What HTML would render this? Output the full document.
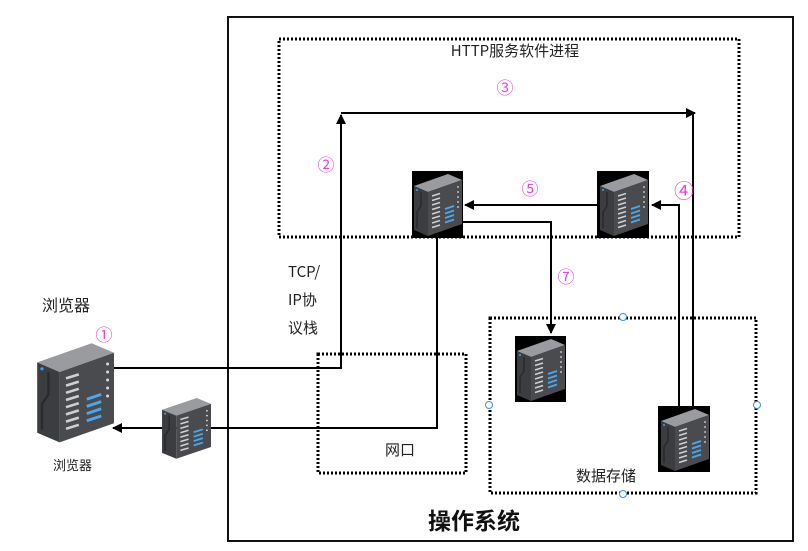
<!DOCTYPE html>
<html><head><meta charset="utf-8"><style>
html,body{margin:0;padding:0;background:#fff;width:808px;height:551px;overflow:hidden}
svg text{font-family:"Noto Sans CJK SC","Liberation Sans",sans-serif}
</style></head><body>
<svg width="808" height="551" viewBox="0 0 808 551" xmlns="http://www.w3.org/2000/svg">
<defs>
<g id="srv">
 <polygon points="2,14 36,2 50,8 16,20" fill="#9a9b9e"/>
 <polygon points="2,14 16,20 16,64 2,58" fill="#3c3d40"/>
 <polygon points="16,20 50,8 50,52 16,64" fill="#4a4b4f"/>
 <path d="M9,20 L9,34 L5,40 L5,56" stroke="#2a2a2c" stroke-width="1.5" fill="none"/>
 <circle cx="5" cy="18" r="1" fill="#3fa0ff"/>
 <g stroke="#d0d0d0" stroke-width="1.6">
  <line x1="20" y1="24" x2="28" y2="21.5"/><line x1="20" y1="28.5" x2="28" y2="26"/>
  <line x1="20" y1="33" x2="28" y2="30.5"/><line x1="20" y1="37.5" x2="28" y2="35"/>
  <line x1="20" y1="42" x2="28" y2="39.5"/><line x1="20" y1="46.5" x2="28" y2="44"/>
  <line x1="20" y1="51" x2="28" y2="48.5"/><line x1="20" y1="55.5" x2="28" y2="53"/>
 </g>
 <g stroke="#4aa8f0" stroke-width="1.8">
  <line x1="33" y1="37" x2="42" y2="34"/><line x1="33" y1="41.5" x2="42" y2="38.5"/>
  <line x1="33" y1="46" x2="42" y2="43"/><line x1="33" y1="50.5" x2="42" y2="47.5"/>
 </g>
 <g fill="#ddd"><circle cx="46" cy="15" r=".9"/><circle cx="46" cy="20" r=".9"/><circle cx="46" cy="25" r=".9"/><circle cx="46" cy="30" r=".9"/><circle cx="46" cy="35" r=".9"/></g>
</g>
<marker id="ar" markerWidth="10" markerHeight="10" refX="9" refY="5" orient="auto" markerUnits="userSpaceOnUse"><path d="M0,0 L10,5 L0,10 z" fill="#000"/></marker>
</defs>

<rect x="228" y="17" width="565" height="524" fill="none" stroke="#111" stroke-width="2"/>
<g fill="none" stroke="#000" stroke-width="3" stroke-dasharray="2,2">
<rect x="279" y="39" width="460" height="198"/>
<rect x="318" y="354" width="148" height="119"/>
<rect x="490" y="318" width="266" height="175"/>
</g>
<g fill="#fff" stroke="#3b8fe0" stroke-width="1"><circle cx="623" cy="317" r="3.5"/><circle cx="489" cy="405" r="3.5"/><circle cx="757" cy="405" r="3.5"/><circle cx="623" cy="494" r="3.5"/></g>

<g stroke="#000" stroke-width="2" fill="none">
 <path d="M113,368 H341 V115" marker-end="url(#ar)"/>
 <path d="M341,113 H695" marker-end="url(#ar)"/>
 <path d="M693,406 V113"/>
 <path d="M679,406 V205 H652" marker-end="url(#ar)"/>
 <path d="M597,205 H465" marker-end="url(#ar)"/>
 <path d="M463,222 H551 V333" marker-end="url(#ar)"/>
 <path d="M437,238 V428 H113" marker-end="url(#ar)"/>
</g>

<rect x="412" y="171" width="51" height="67" fill="#000"/><use href="#srv" x="412" y="172"/>
<rect x="597" y="171" width="52" height="67" fill="#000"/><use href="#srv" x="598" y="172"/>
<rect x="515" y="336" width="51" height="66" fill="#000"/><use href="#srv" x="515" y="337"/>
<rect x="658" y="406" width="52" height="66" fill="#000"/><use href="#srv" x="659" y="407"/>
<use href="#srv" transform="translate(160,396) scale(1.02,0.98)"/>
<use href="#srv" transform="translate(34,340) scale(1.6,1.6)"/>

<g font-size="15" fill="#222">
 <text x="515" y="56" text-anchor="middle">HTTP服务软件进程</text>
 <text x="288" y="277">TCP/</text>
 <text x="288" y="305">IP协</text>
 <text x="288" y="333">议栈</text>
 <text x="42" y="311" font-size="16">浏览器</text>
 <text x="53" y="470" font-size="13">浏览器</text>
 <text x="385" y="455">网口</text>
 <text x="576" y="481">数据存储</text>
</g>
<text x="474" y="529" font-size="23" font-weight="bold" text-anchor="middle" fill="#111">操作系统</text>
<g font-size="17" fill="#f040e0" text-anchor="middle">
 <text x="505" y="94">③</text>
 <text x="326" y="171">②</text>
 <text x="530" y="195">⑤</text>
 <text x="684" y="198" font-size="20">④</text>
 <text x="566" y="283">⑦</text>
 <text x="104" y="341">①</text>
</g>
</svg>
</body></html>
